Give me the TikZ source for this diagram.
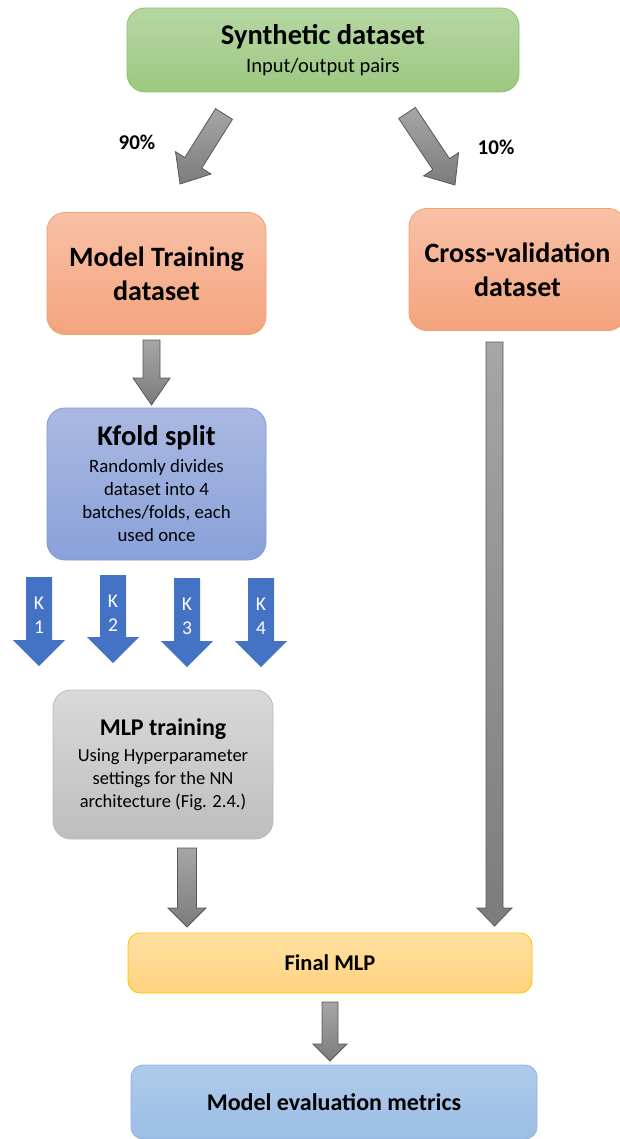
\documentclass[tikz,border=0pt]{standalone}
\usepackage{fontspec}
\setmainfont{Carlito}
\usetikzlibrary{calc}
\definecolor{grntop}{HTML}{B6D7A4}
\definecolor{grnbot}{HTML}{9CC87F}
\definecolor{grnline}{HTML}{8DC16E}
\definecolor{orgtop}{HTML}{F8C1A6}
\definecolor{orgbot}{HTML}{F4A47E}
\definecolor{orgline}{HTML}{F2A06E}
\definecolor{blutop}{HTML}{AAB9E2}
\definecolor{blubot}{HTML}{89A1D9}
\definecolor{bluline}{HTML}{7F99D4}
\definecolor{grytop}{HTML}{D9D9D9}
\definecolor{grybot}{HTML}{BEBEBE}
\definecolor{gryline}{HTML}{BABABA}
\definecolor{yeltop}{HTML}{FFE0A2}
\definecolor{yelbot}{HTML}{FFD37F}
\definecolor{yelline}{HTML}{FFC000}
\definecolor{evtop}{HTML}{AFCBEA}
\definecolor{evbot}{HTML}{9BBDE5}
\definecolor{evline}{HTML}{8FB4E0}
\definecolor{kblue}{HTML}{4472C4}
\definecolor{arrtop}{HTML}{A6A6A6}
\definecolor{arrbot}{HTML}{7C7C7C}
\definecolor{arrline}{HTML}{595959}
\tikzset{
  box/.style={
      rounded corners=18pt,
      align=center,
      inner sep=0pt,
      line width=0.8pt,
  },
  titlebox/.style={
      box,
      font=\fontsize{28}{34}\selectfont\bfseries
  },
  greenbox/.style={box, draw=grnline, top color=grntop, bottom color=grnbot},
  orangebox/.style={titlebox, draw=orgline, top color=orgtop, bottom color=orgbot,
      minimum height=122pt},
  kfoldbox/.style={box, draw=bluline, top color=blutop, bottom color=blubot},
  mlpbox/.style={box, draw=gryline, top color=grytop, bottom color=grybot},
  finalbox/.style={box, rounded corners=12pt, draw=yelline, top color=yeltop,
      bottom color=yelbot, font=\fontsize{22.5}{26}\selectfont\bfseries},
  evalbox/.style={box, rounded corners=12pt, draw=evline, top color=evtop,
      bottom color=evbot, font=\fontsize{24}{28}\selectfont\bfseries},
  share/.style={font=\fontsize{21}{24}\selectfont\bfseries},
  foldlabel/.style={text=white, align=center, font=\fontsize{19.5}{24}\selectfont},
  grayarrow/.style={draw=arrline, line width=0.8pt, top color=arrtop, bottom color=arrbot},
  foldarrow/.style={fill=kblue}
}
% block arrow: [style]{start}{tip}{shaft half width}{head half width}{head length}
\newcommand{\blockarrow}[6][grayarrow]{%
  \coordinate (hb) at ($(#3)!#6!(#2)$);
  \path[#1] ($(#2)!#4!90:(#3)$) -- ($(hb)!#4!90:(#3)$) -- ($(hb)!#5!90:(#3)$)
    -- (#3) -- ($(hb)!#5!-90:(#3)$) -- ($(hb)!#4!-90:(#3)$)
    -- ($(#2)!#4!-90:(#3)$) -- cycle;
}
\newcommand{\hd}[1]{{\fontsize{28.5}{30}\selectfont\bfseries #1}}
\newcommand{\hdm}[1]{{\fontsize{24}{26}\selectfont\bfseries #1}}

\begin{document}
\begin{tikzpicture}[x=1pt,y=-1pt]
	\useasboundingbox (0,0) rectangle (619,1139);
	\node[greenbox, minimum width=392pt, minimum height=84pt] (synth) at (323,50)
		{\hd{Synthetic dataset}\\[8pt]{\fontsize{20.5}{22}\selectfont Input/output pairs}};
	\node[orangebox, minimum width=219pt] (train) at (156.5,273.5) {Model Training\\dataset};
	\node[orangebox, minimum width=217pt] (cross) at (517.5,269.5) {Cross-validation\\dataset};
	\node[kfoldbox, minimum width=219pt, minimum height=152pt,
		font=\fontsize{18.8}{23}\selectfont] (kfold) at (156.5,484)
		{\hd{Kfold split}\\[4pt] Randomly divides\\ dataset into 4\\ batches/folds, each\\ used once};
	\node[mlpbox, minimum width=220pt, minimum height=149pt,
		font=\fontsize{18.5}{23}\selectfont] (mlp) at (163,764.5)
		{\hdm{MLP training}\\[3pt] Using Hyperparameter\\ settings for the NN\\ architecture (Fig. 2.4.)};
	\node[finalbox, minimum width=404pt, minimum height=60pt] (final) at (330,963) {Final MLP};
	\node[evalbox, minimum width=406pt, minimum height=74pt] (eval) at (334,1102)
		{Model evaluation metrics};
	\node[share] (p90) at (137,142) {90\%};
	\node[share] (p10) at (496,147) {10\%};
	% gray connectors
	\coordinate (s90) at (224,114); \coordinate (t90) at (180,184);
	\coordinate (s10) at (407,113); \coordinate (t10) at (455,185);
	\coordinate (trainout) at (151.5,340); \coordinate (kfoldin) at (151.5,405);
	\coordinate (crossout) at (494.5,342); \coordinate (finalinR) at (494.5,926);
	\coordinate (mlpout) at (187,848); \coordinate (finalinL) at (187,927);
	\coordinate (finalout) at (330,1002); \coordinate (evalin) at (330,1061);
	\blockarrow{s90}{t90}{10pt}{21pt}{25pt}
	\blockarrow{s10}{t10}{10pt}{21pt}{25pt}
	\blockarrow{trainout}{kfoldin}{8.5pt}{18.5pt}{27pt}
	\blockarrow{crossout}{finalinR}{8.5pt}{17.5pt}{18pt}
	\blockarrow{mlpout}{finalinL}{9.5pt}{19pt}{19pt}
	\blockarrow{finalout}{evalin}{8pt}{17pt}{17pt}
	% the four folds
	\foreach \x/\t/\b/\n in {39/577/666/1,113/575/663/2,187/578/667/3,261/578/667/4}{
		\coordinate (ktop\n) at (\x,\t);
		\coordinate (ktip\n) at (\x,\b);
		\blockarrow[foldarrow]{ktop\n}{ktip\n}{13pt}{26pt}{26pt}
		\node[foldlabel] (k\n) at (\x,\t+38) {K\\\n};
	}
\end{tikzpicture}
\end{document}
